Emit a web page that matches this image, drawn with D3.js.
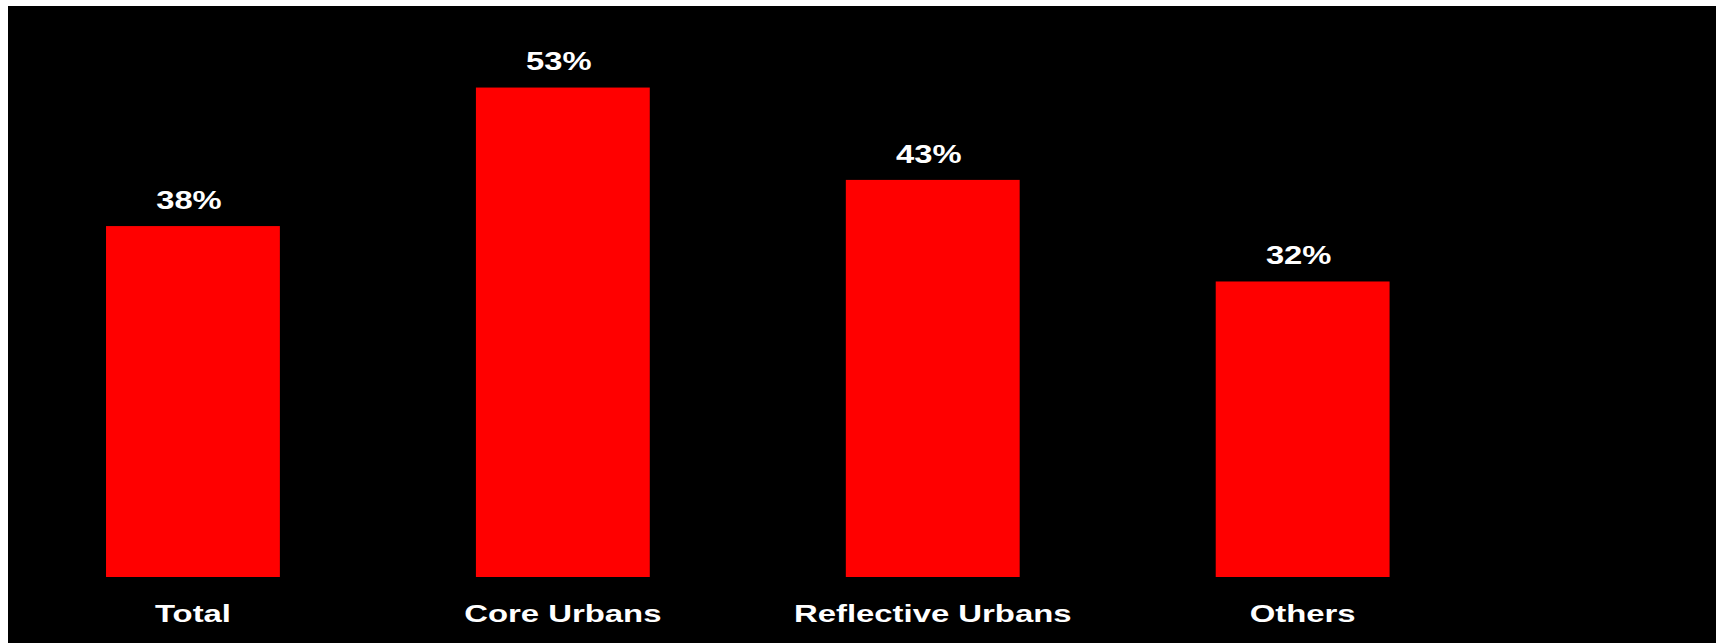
<!DOCTYPE html>
<html>
<head>
<meta charset="utf-8">
<script src="https://cdn.jsdelivr.net/npm/d3@7"></script>
<style>
  html, body { margin: 0; padding: 0; background: #ffffff; }
  svg { display: block; }
  text { font-family: "Liberation Sans", Arial, sans-serif; font-weight: bold; fill: #ffffff; }
</style>
</head>
<body>
<svg id="chart" width="1718" height="643"></svg>
<script>
const categories = ["Total", "Core Urbans", "Reflective Urbans", "Others"];
const values = [38, 53, 43, 32];
const valueLabels = ["38%", "53%", "43%", "32%"];

const W = 1718, H = 643;
const svg = d3.select("#chart");

svg.append("rect")
  .attr("x", 8).attr("y", 6)
  .attr("width", 1708).attr("height", H - 6)
  .attr("fill", "#000000");

const x = d3.scaleBand()
  .domain(categories)
  .range([8, 1487.6])
  .paddingInner(0.53)
  .paddingOuter(0.265);

const baseY = 577;
const y = d3.scaleLinear()
  .domain([0, 60])
  .range([baseY, baseY - 60 * 9.235]);

const data = categories.map((c, i) => ({ c, v: values[i], label: valueLabels[i] }));

svg.append("g").selectAll("rect")
  .data(data).join("rect")
  .attr("x", d => x(d.c))
  .attr("y", d => y(d.v))
  .attr("width", x.bandwidth())
  .attr("height", d => y(0) - y(d.v))
  .attr("fill", "#ff0000");

svg.append("g").selectAll("text")
  .data(data).join("text")
  .attr("text-anchor", "middle")
  .attr("font-size", 25)
  .attr("transform", d => `translate(${x(d.c) + x.bandwidth() / 2 - 4},${y(d.v) - 17.2}) scale(1.31,1)`)
  .text(d => d.label);

svg.append("g").selectAll("text")
  .data(data).join("text")
  .attr("text-anchor", "middle")
  .attr("font-size", 24)
  .attr("transform", d => `translate(${x(d.c) + x.bandwidth() / 2},622) scale(1.37,1)`)
  .text(d => d.c);
</script>
</body>
</html>
